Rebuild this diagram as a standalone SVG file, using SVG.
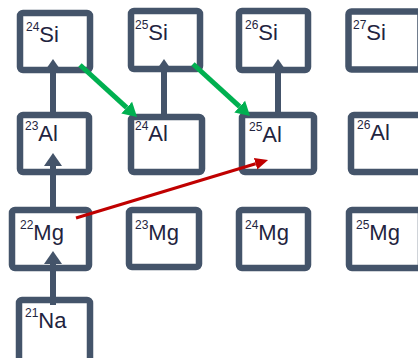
<svg xmlns="http://www.w3.org/2000/svg" width="418" height="358" viewBox="0 0 418 358">
<style>
.box{fill:#ffffff;stroke:#44546a;stroke-width:6.5;rx:3;}
.lbl{font-family:"Liberation Sans",Arial,sans-serif;font-size:22px;fill:#1f2440;}
.sup{font-size:12px;}
.dark{stroke:#44546a;stroke-width:6;fill:none;marker-end:url(#hd);}
.green{stroke:#00b050;stroke-width:5;fill:none;marker-end:url(#hg);}
.red{stroke:#c00000;stroke-width:3;fill:none;marker-end:url(#hr);}
</style>
<defs>
<marker id="hd" markerUnits="userSpaceOnUse" viewBox="0 -10 14 20" refX="0" refY="0" markerWidth="14" markerHeight="20" orient="auto"><path d="M0,-9 L13,0 L0,9 z" fill="#44546a"/></marker>
<marker id="hg" markerUnits="userSpaceOnUse" viewBox="0 -10 15 20" refX="0" refY="0" markerWidth="15" markerHeight="20" orient="auto"><path d="M0,-8 L14,0 L0,8 z" fill="#00b050"/></marker>
<marker id="hr" markerUnits="userSpaceOnUse" viewBox="0 -8 14 16" refX="0" refY="0" markerWidth="14" markerHeight="16" orient="auto"><path d="M0,-6 L13,0 L0,6 z" fill="#c00000"/></marker>
</defs>
<g id="n-si24"><rect class="box" x="20" y="13" width="70" height="57"/><text class="lbl" x="26" y="42"><tspan class="sup" dy="-11">24</tspan><tspan dy="11">Si</tspan></text></g>
<g id="n-si25"><rect class="box" x="131" y="11" width="69" height="58"/><text class="lbl" x="135" y="40"><tspan class="sup" dy="-11">25</tspan><tspan dy="11">Si</tspan></text></g>
<g id="n-si26"><rect class="box" x="239" y="11" width="69" height="59"/><text class="lbl" x="245" y="40"><tspan class="sup" dy="-11">26</tspan><tspan dy="11">Si</tspan></text></g>
<g id="n-si27"><rect class="box" x="348.5" y="11.5" width="72" height="58"/><text class="lbl" x="353" y="40"><tspan class="sup" dy="-11">27</tspan><tspan dy="11">Si</tspan></text></g>
<g id="n-al23"><rect class="box" x="20" y="115" width="69" height="57"/><text class="lbl" x="25" y="141"><tspan class="sup" dy="-11">23</tspan><tspan dy="11">Al</tspan></text></g>
<g id="n-al24"><rect class="box" x="131" y="117" width="71" height="55"/><text class="lbl" x="135" y="141"><tspan class="sup" dy="-11">24</tspan><tspan dy="11">Al</tspan></text></g>
<g id="n-al25"><rect class="box" x="242" y="115" width="72" height="57"/><text class="lbl" x="249" y="142"><tspan class="sup" dy="-11">25</tspan><tspan dy="11">Al</tspan></text></g>
<g id="n-al26"><rect class="box" x="351" y="115" width="72" height="57"/><text class="lbl" x="357" y="140"><tspan class="sup" dy="-11">26</tspan><tspan dy="11">Al</tspan></text></g>
<g id="n-mg22"><rect class="box" x="12" y="210" width="77" height="58"/><text class="lbl" x="20" y="240"><tspan class="sup" dy="-11">22</tspan><tspan dy="11">Mg</tspan></text></g>
<g id="n-mg23"><rect class="box" x="129" y="210" width="70" height="57"/><text class="lbl" x="135" y="240"><tspan class="sup" dy="-11">23</tspan><tspan dy="11">Mg</tspan></text></g>
<g id="n-mg24"><rect class="box" x="239" y="210" width="69" height="58"/><text class="lbl" x="245" y="240"><tspan class="sup" dy="-11">24</tspan><tspan dy="11">Mg</tspan></text></g>
<g id="n-mg25"><rect class="box" x="349" y="210" width="72" height="58"/><text class="lbl" x="356" y="240"><tspan class="sup" dy="-11">25</tspan><tspan dy="11">Mg</tspan></text></g>
<g id="n-na21"><rect class="box" x="19" y="300" width="71" height="62"/><text class="lbl" x="25" y="328"><tspan class="sup" dy="-11">21</tspan><tspan dy="11">Na</tspan></text></g>
<g id="connectors">
<line class="dark" x1="53" y1="305" x2="53" y2="264"/>
<line class="dark" x1="53" y1="213" x2="53" y2="166"/>
<line class="dark" x1="53" y1="117" x2="53" y2="72"/>
<line class="dark" x1="164" y1="119" x2="164" y2="72"/>
<line class="dark" x1="278" y1="117" x2="278" y2="72"/>
<line class="green" x1="80" y1="65" x2="126.7" y2="107.6"/>
<line class="green" x1="193" y1="64" x2="239.7" y2="106.6"/>
<line class="red" x1="76" y1="218" x2="255.6" y2="163.8"/>
</g>
</svg>
